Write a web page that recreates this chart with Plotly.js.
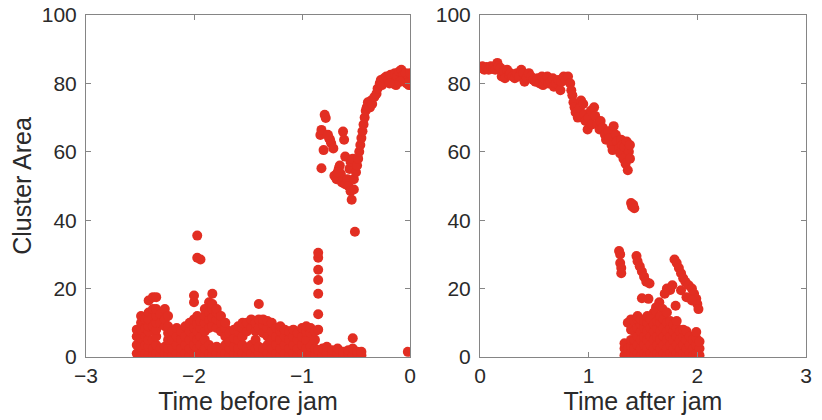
<!DOCTYPE html>
<html>
<head>
<meta charset="utf-8">
<script src="https://cdn.plot.ly/plotly-3.0.1.min.js"></script>
<style>html,body{margin:0;padding:0;background:#fff;}#chart{width:822px;height:420px;}</style>
</head>
<body>
<div id="chart"></div>
<script>
// ---- Data: time before jam (left panel) ----
// low band: [time, [cluster areas at that time]]
const beforeBand = [
  [-2.53,[1,3.5,6,8]], [-2.49,[0.5,3,5.5,8,10,12]], [-2.45,[1,3.5,6,8.5,11]],
  [-2.42,[0.5,3,5,7.5,9,11,13,16.5]], [-2.38,[0.5,2.5,5,9,12,14,17.5]], [-2.35,[1,3.5,6,8,10,12,14,17.5]],
  [-2.31,[0.5,2.5,10,12.5]], [-2.27,[1,3,9,11,14]], [-2.24,[0.5,2.5,5,7,9,12]],
  [-2.20,[0.5,2.5,5,7.5]], [-2.16,[1,3.5,6,8.5]], [-2.12,[0.5,2.5,5,7.5]],
  [-2.08,[1,3.5,6,9]], [-2.04,[0.5,2.5,5,7.5,10]], [-2.00,[1,3.5,6,8.5,11,16,18]],
  [-1.97,[0.5,2.5,5,7.5,10,12,29,35.5]], [-1.94,[1,3.5,6,8.5,10.5,28.5]], [-1.90,[0.5,2.5,5,7.5,10,12,14]],
  [-1.86,[1,3.5,8.5,11,13,16]], [-1.83,[0.5,2.5,9,11.5,14,15.5,18.5]], [-1.79,[1,3,8.5,11,13,14]],
  [-1.75,[0.5,2.5,7.5,10,12]], [-1.71,[1,3.5,6,8.5,10]], [-1.67,[0.5,2.5,4.5,7]],
  [-1.63,[1,3,5.5,8]], [-1.59,[0.5,2.5,5,7.5,9]], [-1.55,[1,3.5,6,8.5,10]],
  [-1.51,[0.5,2.5,7.5,10]], [-1.47,[1,3.5,8.5,11]], [-1.43,[0.5,2.5,5,7.5,10]],
  [-1.40,[1,3,8.5,11,15.5]], [-1.36,[0.5,2.5,7,9.5,11]], [-1.32,[1,3.5,6,8.5,10.5]],
  [-1.28,[0.5,2.5,5,7.5,10]], [-1.24,[1,3.5,6,8.5]], [-1.20,[0.5,2.5,5,7.5,9]],
  [-1.16,[1,3.5,6,8]], [-1.12,[0.5,2.5,5,7.5]], [-1.08,[1,3.5,6,8]],
  [-1.04,[0.5,2.5,5,7]], [-1.00,[1,3.5,6,8.5]], [-0.96,[0.5,2.5,5,7.5,9]],
  [-0.92,[1,3,7,8.5]], [-0.88,[0.5,2.5,5,7.5]],
  [-0.85,[2,8,12.5,18.5,22.5,25.5,29,30.5]], [-0.81,[0.5,2.5]], [-0.77,[1,3]], [-0.72,[0.5,2]],
  [-0.67,[1,2.5]], [-0.62,[0.5,1.5]], [-0.57,[1,2]], [-0.53,[0.5,2.5,5.5]],
  [-0.49,[1,1.5]], [-0.45,[0.5,1.5]], [-0.02,[1.5]]
];
const beforeUpperTime = [-0.83,-0.82,-0.79,-0.78,-0.80,-0.82,-0.75,-0.73,-0.74,-0.76,-0.71,-0.62,-0.61,-0.60,
  -0.70,-0.68,-0.66,-0.65,-0.64,-0.67,-0.63,-0.60,-0.58,-0.56,-0.57,-0.55,-0.54,-0.51,-0.52,-0.55,-0.53,-0.52,
  -0.50,-0.49,-0.48,-0.47,-0.46,-0.45,-0.44,-0.43,-0.42,-0.41,-0.40,-0.39,-0.37,-0.36,-0.35,-0.33,-0.31,-0.30,
  -0.28,-0.27,-0.26,-0.24,-0.22,-0.20,-0.18,-0.16,-0.14,-0.12,-0.10,-0.08,-0.06,-0.04,-0.02,0.0,-0.01,-0.03,
  -0.09,-0.13,-0.19];
const beforeUpperArea = [64.9,66.4,70.8,69.9,60.5,55.2,64,62.5,63.5,65,61,65.9,63.5,58.6,
  53,52,55,56,53.5,54,51,50.5,52,55,50,48.5,46,36.6,49,57,58,52,
  54,56,58,60,62,64,66,68,70,72,73,74.5,73,75,74,76,77,78.5,
  80,81,79.5,81.5,82,81,82.5,80,83,82,83.5,84,82.5,83,81,83,79.5,80,
  80.5,79.5,80];

// ---- Data: time after jam (right panel) ----
const afterUpperTime = [0.0,0.02,0.04,0.06,0.08,0.10,0.12,0.14,0.16,0.17,0.19,0.20,0.22,0.23,0.25,0.27,0.28,
  0.30,0.32,0.34,0.36,0.38,0.40,0.41,0.43,0.45,0.47,0.49,0.51,0.53,0.55,0.57,0.58,0.60,0.62,0.63,0.65,0.67,
  0.68,0.70,0.72,0.74,0.75,0.77,0.79,0.81,0.83,0.84,0.85,0.86,0.87,0.88,0.90,0.92,0.93,0.95,0.96,0.97,0.99,
  1.00,1.02,1.03,1.05,1.06,1.08,1.10,1.11,1.13,1.15,1.16,1.18,1.19,1.21,1.22,1.23,1.25,1.26,1.28,1.29,1.30,
  1.31,1.32,1.33,1.34,1.35,1.36,1.37,1.38,1.38,1.39,1.40,1.41,1.42];
const afterUpperArea = [84.5,85,84,84.8,84,85,84.5,84,86,85,84.5,82,83.5,81.5,84,82.5,83,
  82,81.5,83,82,84,83,80.5,81.5,83,82,81,80.5,81.5,80,82,79.5,81,82,80,80.5,81.5,
  79,80,81,78,80.5,82,81,82,80,78,76.5,74.5,73,71.5,70,73,75,74,71,69,66.5,
  70,72,68,73,70.5,68,66.5,69,67,65,63.5,66,64,62,60.5,67.5,65,63,61,59.5,63.5,
  62,58,61.5,56.5,63,54.6,60,58,62,45,44,44.5,43.5];
const afterTailTime = [1.28,1.29,1.29,1.30,1.30,1.44,1.45,1.47,1.49,1.51,1.53,1.56,1.55,1.49,1.79,1.81,1.83,
  1.85,1.87,1.89,1.92,1.95,1.97,1.99,2.00,2.01,1.75,1.72,1.70,1.77,1.85,1.90,1.95,1.65,1.62,1.68,1.80,1.60];
const afterTailArea = [31,30,27.5,26,24.5,29.5,28,26.5,25,23.5,22,21.5,17,17.2,28.5,27.5,26,
  24.5,23,22,21,20,18.5,17,15.5,14,19.6,20,18.5,21,19.5,17.5,16.5,16,14.5,14,15,13];
const afterBand = [
  [1.33,[0.5,2.5,4]], [1.36,[0.5,2.5,10]], [1.39,[1,3,5,8,11]], [1.42,[0.5,2.5,5,7.5,10.5]],
  [1.45,[1,3.5,6,8.5,11,12]], [1.48,[0.5,2.5,5,7.5,9.5,11]], [1.51,[1,3.5,6,8.5,10.5]],
  [1.54,[0.5,2.5,5,7.5,10,12]], [1.57,[1,3.5,6,8.5,11]], [1.60,[0.5,2.5,5,7.5,9.5]],
  [1.63,[1,3.5,6,8.5,10.5]], [1.66,[0.5,2.5,5,7.5,10,12]], [1.69,[1,3.5,6,8.5,11]],
  [1.72,[0.5,2.5,5,7.5,10,13]], [1.75,[1,3.5,6,8.5,10.5]], [1.78,[0.5,2.5,5,7.5,9.5]],
  [1.81,[1,3.5,6,8.5,10.5]], [1.84,[0.5,2.5,5,7.5]], [1.87,[1,3.5,6,8]],
  [1.90,[0.5,2.5,5,7.5]], [1.93,[1,3.5,6]], [1.96,[0.5,2.5,5]],
  [1.99,[1,3.5,5.5,7.3]], [2.02,[0.5,2.5,4.5]]
];

const xTicksBefore = [-3,-2,-1,0];
const xTicksAfter = [0,1,2,3];
const yTicks = [0,20,40,60,80,100];

// ---- Build traces ----
function flatten(cols){
  const xs=[], ys=[];
  cols.forEach(c=>c[1].forEach(v=>{xs.push(c[0]); ys.push(v);}));
  return [xs, ys];
}
const [bbx, bby] = flatten(beforeBand);
const [abx, aby] = flatten(afterBand);
const red = 'rgb(226,46,34)';
const mk = {color: red, size: 10, line: {width: 0}};

const traces = [
  {x: bbx.concat(beforeUpperTime), y: bby.concat(beforeUpperArea), type:'scatter', mode:'markers',
   marker: mk, xaxis:'x', yaxis:'y', hoverinfo:'skip'},
  {x: afterUpperTime.concat(afterTailTime, abx), y: afterUpperArea.concat(afterTailArea, aby),
   type:'scatter', mode:'markers', marker: mk, xaxis:'x2', yaxis:'y2', hoverinfo:'skip'}
];

const fontFam = 'Liberation Sans, Arial, sans-serif';
const axBase = {
  showline:true, linecolor:'#858585', linewidth:1, mirror:'ticks',
  ticks:'inside', ticklen:5, tickcolor:'#858585', tickwidth:1,
  showgrid:false, zeroline:false,
  tickfont:{family:fontFam, size:21, color:'#2a2a2a'}
};
const titleFont = {family:fontFam, size:25, color:'#2a2a2a'};
const layout = {
  width:822, height:420,
  margin:{l:0, r:0, t:15, b:63},
  paper_bgcolor:'#fff', plot_bgcolor:'#fff',
  showlegend:false,
  xaxis: Object.assign({}, axBase, {domain:[86/822, 410/822], range:[-3,0], tickvals:xTicksBefore,
    title:{text:'Time before jam', font:titleFont, standoff:3}, automargin:false}),
  yaxis: Object.assign({}, axBase, {domain:[0,1], range:[0,100], tickvals:yTicks, ticklabelstandoff:4,
    title:{text:'Cluster Area', font:titleFont, standoff:3}, automargin:false}),
  xaxis2: Object.assign({}, axBase, {domain:[480/822, 806/822], range:[0,3], tickvals:xTicksAfter, anchor:'y2',
    title:{text:'Time after jam', font:titleFont, standoff:3}, automargin:false}),
  yaxis2: Object.assign({}, axBase, {domain:[0,1], range:[0,100], tickvals:yTicks, anchor:'x2',
    ticklabelstandoff:4, automargin:false})
};
Plotly.newPlot('chart', traces, layout, {staticPlot:true, displayModeBar:false});
</script>
</body>
</html>
